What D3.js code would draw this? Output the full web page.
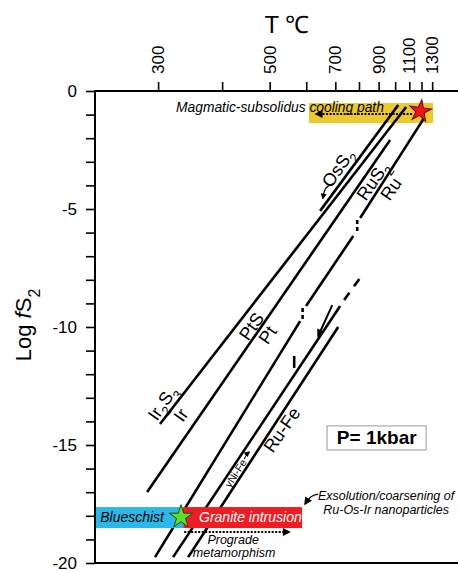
<!DOCTYPE html>
<html>
<head>
<meta charset="utf-8">
<script src="https://cdnjs.cloudflare.com/ajax/libs/d3/7.8.5/d3.min.js"></script>
<style>
  body { margin: 0; background: #fff; }
  text { font-family: "Liberation Sans", Arial, sans-serif; fill: #000; }
</style>
</head>
<body>
<div id="chart"></div>
<script>
// x values are 1000/T (K^-1), y values are log fS2

// axis ticks (T in deg C on top, log fS2 on the left)
var tempTicks = [300, 400, 500, 600, 700, 800, 900, 1000, 1100, 1200, 1300];
var tempLabels = [300, 500, 700, 900, 1100, 1300];
var logTicks = [0, -1, -2, -3, -4, -5, -6, -7, -8, -9, -10, -11, -12, -13, -14, -15, -16, -17, -18, -19, -20];
var logLabels = [0, -5, -10, -15, -20];

// sulfide / metal reaction lines, solid pieces
var solidLines = [
  [[1.737, -14.11], [0.741, -0.68]],   // Ir2S3 / Ir
  [[1.789, -16.99], [0.806, -2.08]],   // PtS / Pt
  [[1.089, -5.08], [0.773, -0.59]],    // OsS2 / Os
  [[1.757, -19.75], [1.170, -9.75]],   // RuS2 / Ru
  [[1.146, -9.11], [0.955, -6.14]],
  [[0.927, -5.38], [0.668, -1.14]],
  [[1.684, -19.75], [1.008, -9.11]],   // gamma Ni-Fe
  [[1.623, -19.75], [1.016, -10.00]]   // Ru-Fe
];
var dashedLines = [
  [[0.992, -8.86], [0.919, -7.80]]
];
// little break marks on the RuS2/Ru line and tick on the Ni-Fe line
var breakMarks = [[1.160, -9.45], [0.939, -5.72]];
var crossTicks = [[1.194, -11.48]];

var lineLabels = [
  { name: "Ir_2S_3", at: [1.726, -13.22] },
  { name: "Ir", at: [1.652, -13.73] },
  { name: "PtS", at: [1.366, -9.98] },
  { name: "Pt", at: [1.301, -10.34] },
  { name: "OsS_2", at: [1.016, -3.26] },
  { name: "RuS_2", at: [0.875, -3.81] },
  { name: "Ru", at: [0.802, -4.15] },
  { name: "Ru-Fe", at: [1.243, -14.36] }
];

// shaded fields [x1, x2], [y1, y2]
var coolingBox = [[1.134, 0.632], [-0.51, -1.36]];
var blueschistBox = [[2.0, 1.643], [-17.63, -18.52]];
var graniteBox = [[1.643, 1.162], [-17.63, -18.52]];
var kbarBox = [[1.061, 0.660], [-14.19, -15.21]];

// stars and arrows
var redStar = [0.684, -0.85];
var greenStar = [1.652, -18.05];
var coolingArrow = [[0.717, -0.97], [1.105, -0.97]];
var progradeArrow = [[1.639, -18.69], [1.214, -18.69]];
var niFeArrow = [[1.040, -9.07], [1.097, -10.38]];
var osArrow = [[1.036, -3.94], [1.070, -4.05], [1.078, -4.55]];
var exsolArrow = [[1.097, -17.08], [1.129, -17.16], [1.150, -17.50]];
var niFeLabelAt = [1.432, -16.19];

var svgWidth = 458;
var svgHeight = 571;

var svg = d3.select("#chart")
  .append("svg")
  .attr("width", svgWidth)
  .attr("height", svgHeight);

var x = d3.scaleLinear().domain([2.0, 0.5]).range([95, 465.7]);
var y = d3.scaleLinear().domain([0, -20]).range([91, 563]);

function invT(t) { return 1000 / (t + 273.15); }

// subscript helper: "_x" puts the next char in subscript
function richText(sel, str) {
  str.split(/(_.)/).filter(function(s) { return s.length; }).forEach(function(p) {
    if (p[0] === "_") {
      sel.append("tspan").attr("baseline-shift", "sub").attr("font-size", "72%").text(p[1]);
    } else {
      sel.append("tspan").text(p);
    }
  });
}

// arrow markers
var defs = svg.append("defs");
defs.append("marker")
  .attr("id", "head")
  .attr("viewBox", "0 -5 10 10")
  .attr("refX", 8).attr("refY", 0)
  .attr("markerWidth", 6).attr("markerHeight", 6)
  .attr("markerUnits", "userSpaceOnUse")
  .attr("orient", "auto")
  .append("path").attr("d", "M0,-5L10,0L0,5Z").attr("fill", "#000");
defs.append("marker")
  .attr("id", "bighead")
  .attr("viewBox", "0 -5 10 10")
  .attr("refX", 8).attr("refY", 0)
  .attr("markerWidth", 9).attr("markerHeight", 8)
  .attr("markerUnits", "userSpaceOnUse")
  .attr("orient", "auto")
  .append("path").attr("d", "M0,-5L10,0L0,5Z").attr("fill", "#000");

function boxRect(b, color) {
  return svg.append("rect")
    .attr("x", x(b[0][0]))
    .attr("y", y(b[1][0]))
    .attr("width", x(b[0][1]) - x(b[0][0]))
    .attr("height", y(b[1][1]) - y(b[1][0]))
    .attr("fill", color);
}

// yellow cooling field sits under the lines
boxRect(coolingBox, "#ECC92E");

var line = d3.line().x(function(d) { return x(d[0]); }).y(function(d) { return y(d[1]); });

svg.selectAll(".rxn")
  .data(solidLines)
  .enter()
  .append("path")
  .attr("class", "rxn")
  .attr("d", line)
  .attr("stroke", "#000")
  .attr("stroke-width", 2.6)
  .attr("fill", "none");

svg.selectAll(".dash")
  .data(dashedLines)
  .enter()
  .append("path")
  .attr("class", "dash")
  .attr("d", line)
  .attr("stroke", "#000")
  .attr("stroke-width", 2.6)
  .attr("stroke-dasharray", "9,8")
  .attr("fill", "none");

breakMarks.forEach(function(d) {
  [[-6, -2], [1, 5]].forEach(function(o) {
    svg.append("line")
      .attr("x1", x(d[0])).attr("x2", x(d[0]))
      .attr("y1", y(d[1]) + o[0]).attr("y2", y(d[1]) + o[1])
      .attr("stroke", "#000").attr("stroke-width", 2.6);
  });
});
crossTicks.forEach(function(d) {
  svg.append("line")
    .attr("x1", x(d[0])).attr("x2", x(d[0]))
    .attr("y1", y(d[1]) - 6).attr("y2", y(d[1]) + 6)
    .attr("stroke", "#000").attr("stroke-width", 2.6);
});

// line labels
svg.selectAll(".lbl")
  .data(lineLabels)
  .enter()
  .append("text")
  .attr("class", "lbl")
  .attr("font-size", 18)
  .attr("text-anchor", "middle")
  .attr("dominant-baseline", "central")
  .attr("transform", function(d) { return "translate(" + x(d.at[0]) + "," + y(d.at[1]) + ") rotate(-55)"; })
  .each(function(d) { richText(d3.select(this), d.name); });

// gamma Ni-Fe small label, between the Ni-Fe and Ru-Fe lines
var nx = x(niFeLabelAt[0]), ny = y(niFeLabelAt[1]);
svg.append("text")
  .attr("font-size", 10.5)
  .attr("text-anchor", "middle")
  .attr("dominant-baseline", "central")
  .attr("transform", "translate(" + nx + "," + ny + ") rotate(-57)")
  .text("\u03B3Ni-Fe");
svg.append("path")
  .attr("d", "M" + (nx + 9) + "," + (ny - 14) + " q1,-4 5,-7")
  .attr("stroke", "#000").attr("stroke-width", 1.1).attr("fill", "none")
  .attr("marker-end", "url(#head)");

// arrows
svg.append("path")
  .attr("d", line(niFeArrow))
  .attr("stroke", "#000").attr("stroke-width", 2)
  .attr("fill", "none")
  .attr("marker-end", "url(#bighead)");

var curve = d3.line().curve(d3.curveBasis).x(function(d) { return x(d[0]); }).y(function(d) { return y(d[1]); });
svg.append("path")
  .attr("d", curve(osArrow))
  .attr("stroke", "#000").attr("stroke-width", 1.3).attr("fill", "none")
  .attr("marker-end", "url(#head)");
svg.append("path")
  .attr("d", curve(exsolArrow))
  .attr("stroke", "#000").attr("stroke-width", 1.3).attr("fill", "none")
  .attr("marker-end", "url(#bighead)");

// blueschist / granite fields on top of the lines
boxRect(blueschistBox, "#2BB8E6");
boxRect(graniteBox, "#EE1D23");

[coolingArrow, progradeArrow].forEach(function(a) {
  svg.append("path")
    .attr("d", line(a))
    .attr("stroke", "#000")
    .attr("stroke-width", 2)
    .attr("stroke-dasharray", "2,1.5")
    .attr("fill", "none")
    .attr("marker-end", "url(#bighead)");
});

// stars
var star = d3.symbol().type(d3.symbolStar);
svg.append("path")
  .attr("d", star.size(150)())
  .attr("transform", "translate(" + x(redStar[0]) + "," + y(redStar[1]) + ") rotate(8)")
  .attr("fill", "#F2131B").attr("stroke", "#5a1010").attr("stroke-width", 1);
svg.append("path")
  .attr("d", star.size(170)())
  .attr("transform", "translate(" + x(greenStar[0]) + "," + y(greenStar[1]) + ")")
  .attr("fill", "#62DC2A").attr("stroke", "#1d4d10").attr("stroke-width", 1);

// annotation texts
function note(at, str, opts) {
  var t = svg.append("text")
    .attr("x", x(at[0])).attr("y", y(at[1]))
    .attr("font-size", opts.size || 13)
    .attr("font-style", opts.italic ? "italic" : null)
    .attr("font-weight", opts.bold ? "bold" : null)
    .attr("text-anchor", opts.anchor || "start")
    .text(str);
  if (opts.fill) t.style("fill", opts.fill);
  return t;
}
note([1.672, -0.89], "Magmatic-subsolidus cooling path", { italic: true, size: 13.8 });
note([1.979, -18.26], "Blueschist", { italic: true, size: 14 });
note([1.579, -18.26], "Granite intrusion", { italic: true, size: 14, fill: "#fff" });
note([1.441, -19.19], "Prograde", { italic: true, size: 12.5, anchor: "middle" });
note([1.437, -19.75], "metamorphism", { italic: true, size: 12.5, anchor: "middle" });
note([0.822, -17.33], "Exsolution/coarsening of", { italic: true, size: 12.5, anchor: "middle" });
note([0.822, -17.92], "Ru-Os-Ir nanoparticles", { italic: true, size: 12.5, anchor: "middle" });

// P = 1 kbar box
boxRect(kbarBox, "#fff").attr("stroke", "#aaa").attr("stroke-width", 1.2);
note([0.860, -14.96], "P= 1kbar", { bold: true, size: 19, anchor: "middle" });

// frame
svg.append("rect")
  .attr("x", x(2.0)).attr("y", y(0))
  .attr("width", x(0.5) - x(2.0)).attr("height", y(-20) - y(0))
  .attr("fill", "none").attr("stroke", "#000").attr("stroke-width", 2);

// left axis
var yAxis = d3.axisLeft(y)
  .tickValues(logTicks)
  .tickSize(9)
  .tickPadding(9)
  .tickFormat(function(d) { return logLabels.indexOf(d) >= 0 ? d : ""; });
var yg = svg.append("g").attr("transform", "translate(" + x(2.0) + ",0)").call(yAxis);
yg.select(".domain").remove();
yg.selectAll("line").attr("stroke-width", 1.6);
yg.selectAll("text").attr("font-size", 17).attr("font-family", null);

// top axis
var xAxis = d3.axisTop(x)
  .tickValues(tempTicks.map(invT))
  .tickSize(9)
  .tickFormat("");
var xg = svg.append("g").attr("transform", "translate(0," + y(0) + ")").call(xAxis);
xg.select(".domain").remove();
xg.selectAll("line").attr("stroke-width", 1.6);

svg.selectAll(".tlabel")
  .data(tempLabels)
  .enter()
  .append("text")
  .attr("class", "tlabel")
  .attr("font-size", 17)
  .attr("text-anchor", "start")
  .attr("dy", "0.36em")
  .attr("transform", function(d) { return "translate(" + x(invT(d)) + ",74) rotate(-90)"; })
  .text(function(d) { return d; });

// axis titles
svg.append("text")
  .attr("x", 287).attr("y", 33)
  .attr("text-anchor", "middle")
  .attr("font-size", 24)
  .text("T \u2103");

var yl = svg.append("text")
  .attr("transform", "translate(31,325) rotate(-90)")
  .attr("text-anchor", "middle")
  .attr("font-size", 22);
yl.append("tspan").text("Log ");
yl.append("tspan").attr("font-style", "italic").text("f");
yl.append("tspan").text("S");
yl.append("tspan").attr("baseline-shift", "sub").attr("font-size", "72%").text("2");
</script>
</body>
</html>
